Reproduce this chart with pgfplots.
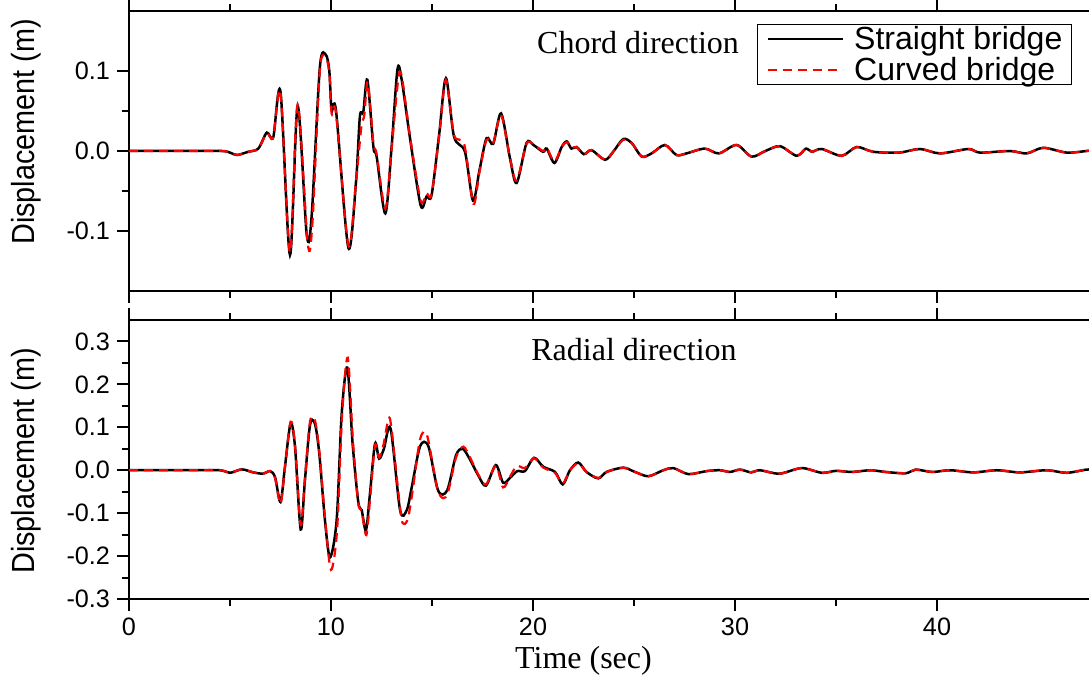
\documentclass[border=0pt]{standalone}
\usepackage{fontspec}
\setmainfont{Liberation Serif}
\setsansfont{Liberation Sans}
\usepackage{graphicx}
\usepackage{pgfplots}
\usepackage{pgfplotstable}
\pgfplotsset{compat=1.18}

% Chord direction, straight bridge
\pgfplotstableread{
x y
0 0
3 0
4.6 0
5.0 -0.002
5.35 -0.005
5.9 -0.001
6.4 0.003
6.82 0.023
7.14 0.017
7.5 0.074
7.97 -0.130
8.35 0.056
8.8 -0.105
9.04 -0.082
9.45 0.105
9.75 0.120
9.92 0.099
10.03 0.051
10.25 0.050
10.86 -0.121
11.24 -0.038
11.43 0.043
11.6 0.049
11.8 0.089
12.1 0.005
12.26 -0.007
12.69 -0.078
13.0 0.005
13.29 0.102
13.5 0.089
13.9 0.018
14.44 -0.068
14.73 -0.057
14.98 -0.055
15.36 0.022
15.69 0.091
16.09 0.018
16.63 -0.001
17.03 -0.062
17.35 -0.024
17.7 0.016
18.03 0.009
18.42 0.047
18.86 -0.009
19.19 -0.040
19.68 0.010
20.02 0.0075
20.5 -0.001
20.68 0.003
21.06 -0.015
21.42 0.005
21.67 0.012
21.9 0.003
22.16 0.005
22.52 -0.004
22.9 0.001
23.56 -0.011
23.97 -0.001
24.47 0.015
24.9 0.0096
25.38 -0.007
25.87 -0.003
26.53 0.0075
27.1 -0.005
27.6 -0.003
28.5 0.003
29.2 -0.003
30.08 0.0075
30.82 -0.007
31.5 0.000
32.23 0.006
33.05 -0.006
33.51 0.003
33.8 -0.001
34.29 0.0025
35.28 -0.006
36.02 0.005
36.85 -0.001
38.12 -0.002
39.16 0.0025
40.15 -0.003
41.55 0.0025
42.13 -0.002
43.61 0.000
44.44 -0.003
45.26 0.004
46.42 -0.002
47.4 0.000
47.8 0.001
}\chordstraight

% Chord direction, curved bridge
\pgfplotstableread{
x y
0 0
3 0
4.6 0
5.0 -0.002
5.35 -0.005
5.9 -0.001
6.4 0.003
6.82 0.022
7.14 0.017
7.5 0.073
7.97 -0.127
8.35 0.058
8.85 -0.116
9.08 -0.090
9.45 0.102
9.75 0.116
9.92 0.097
10.03 0.047
10.25 0.047
10.86 -0.118
11.24 -0.038
11.5 0.030
11.65 0.045
11.82 0.086
12.1 0.010
12.26 -0.004
12.69 -0.072
13.0 0.003
13.35 0.094
13.55 0.086
13.9 0.020
14.44 -0.062
14.73 -0.053
14.98 -0.054
15.36 0.020
15.69 0.089
16.09 0.020
16.6 0.008
17.05 -0.066
17.35 -0.026
17.7 0.014
18.03 0.010
18.42 0.045
18.86 -0.009
19.19 -0.037
19.68 0.009
20.02 0.008
20.5 0.000
20.68 0.004
21.06 -0.013
21.42 0.005
21.67 0.011
21.9 0.004
22.16 0.005
22.52 -0.004
22.9 0.001
23.56 -0.011
23.97 -0.001
24.47 0.014
24.9 0.0096
25.38 -0.007
25.87 -0.003
26.53 0.0075
27.1 -0.005
27.6 -0.003
28.5 0.003
29.2 -0.003
30.08 0.0075
30.82 -0.007
31.5 0.000
32.23 0.006
33.05 -0.006
33.51 0.003
33.8 -0.001
34.29 0.0025
35.28 -0.006
36.02 0.005
36.85 -0.001
38.12 -0.002
39.16 0.0025
40.15 -0.003
41.55 0.0025
42.13 -0.002
43.61 0.000
44.44 -0.003
45.26 0.004
46.42 -0.002
47.4 0.000
47.8 0.001
}\chordcurved

% Radial direction, straight bridge
\pgfplotstableread{
x y
0 0
3 0
4.5 0
5.0 -0.006
5.58 0.002
6.15 -0.005
6.65 -0.008
6.98 -0.002
7.23 -0.016
7.5 -0.074
7.72 0.008
8.0 0.109
8.22 0.054
8.5 -0.138
8.71 -0.023
8.96 0.105
9.2 0.109
9.42 0.039
9.7 -0.116
9.95 -0.203
10.28 -0.116
10.53 0.132
10.81 0.239
11.07 0.062
11.35 -0.074
11.52 -0.093
11.73 -0.140
11.93 -0.054
12.18 0.062
12.38 0.027
12.62 0.050
12.95 0.097
13.42 -0.093
13.75 -0.093
14.0 -0.039
14.41 0.056
14.82 0.056
15.3 -0.047
15.75 -0.047
16.19 0.035
16.52 0.050
16.88 0.025
17.29 -0.012
17.67 -0.036
18.16 0.012
18.52 -0.029
18.86 -0.018
19.22 -0.002
19.6 -0.002
20.05 0.029
20.51 0.008
21.09 -0.004
21.47 -0.033
21.83 0.000
22.24 0.018
22.65 -0.004
23.23 -0.019
23.64 -0.004
24.47 0.006
25.05 -0.004
25.71 -0.014
26.45 0.000
26.95 0.005
27.69 -0.009
28.6 -0.002
29.26 0.000
29.75 -0.004
30.25 0.0015
30.8 -0.005
31.24 0.000
32.2 -0.008
33.3 0.005
34.3 -0.006
35.0 -0.0015
35.8 -0.004
36.7 0.000
37.45 -0.004
38.45 -0.007
38.94 0.0015
39.77 -0.004
40.64 0.000
41.8 -0.005
42.96 0.000
44.1 -0.005
45.43 0.000
46.42 -0.006
47.4 0.0015
47.8 0.001
}\radialstraight

% Radial direction, curved bridge
\pgfplotstableread{
x y
0 0
3 0
4.5 0
5.0 -0.006
5.58 0.002
6.15 -0.005
6.65 -0.008
6.98 -0.002
7.23 -0.018
7.5 -0.078
7.72 0.006
8.0 0.113
8.22 0.058
8.5 -0.128
8.71 -0.020
8.96 0.113
9.2 0.117
9.42 0.045
9.72 -0.120
10.0 -0.232
10.3 -0.140
10.55 0.130
10.83 0.262
11.09 0.065
11.35 -0.076
11.52 -0.095
11.75 -0.151
11.95 -0.058
12.18 0.058
12.38 0.030
12.6 0.060
12.85 0.120
13.0 0.095
13.45 -0.100
13.62 -0.125
13.82 -0.110
14.05 -0.045
14.41 0.072
14.75 0.082
15.25 -0.040
15.55 -0.065
15.8 -0.050
16.19 0.030
16.55 0.055
16.88 0.030
17.29 -0.010
17.67 -0.033
18.16 0.010
18.52 -0.040
18.86 -0.015
19.2 0.010
19.6 0.005
20.05 0.028
20.51 0.006
21.09 -0.006
21.47 -0.031
21.83 0.000
22.24 0.016
22.65 -0.004
23.23 -0.018
23.64 -0.004
24.47 0.006
25.05 -0.004
25.71 -0.014
26.45 0.000
26.95 0.005
27.69 -0.009
28.6 -0.002
29.26 0.000
29.75 -0.004
30.25 0.0015
30.8 -0.005
31.24 0.000
32.2 -0.008
33.3 0.005
34.3 -0.006
35.0 -0.0015
35.8 -0.004
36.7 0.000
37.45 -0.004
38.45 -0.007
38.94 0.0015
39.77 -0.004
40.64 0.000
41.8 -0.005
42.96 0.000
44.1 -0.005
45.43 0.000
46.42 -0.006
47.4 0.0015
47.8 0.001
}\radialcurved

\begin{document}
\begin{tikzpicture}
\pgfplotsset{
  common/.style={
    scale only axis,
    width=482.78bp,
    xmin=0, xmax=47.8,
    tick align=outside,
    major tick length=6bp,
    minor tick length=3.5bp,
    xtick={0,10,20,30,40},
    minor x tick num=1,
    minor y tick num=1,
    xtick pos=both, ytick pos=both,
    axis line style={line width=1.1bp},
    tick style={line width=1bp, black},
    tick label style={font=\sffamily\fontsize{12.6bp}{14bp}\selectfont},
    ylabel={\scalebox{0.9}[1]{Displacement (m)}},
  },
  straight/.style={black, line width=1.25bp, smooth},
  curved/.style={red, line width=1.1bp, dash pattern=on 4.5bp off 3bp, smooth},
}
% Top panel
\begin{axis}[common,
  name=top, at={(0,154bp)}, anchor=south west,
  height=140bp,
  ymin=-0.175, ymax=0.175,
  ytick={-0.1,0,0.1}, yticklabels={-0.1,0.0,0.1},
  xticklabels={},
  ylabel style={at={(axis description cs:-0.1066,0.568)}, anchor=center,
    font=\sffamily\fontsize{16bp}{18bp}\selectfont},
  legend style={at={(axis description cs:0.9766,0.9536)}, anchor=north east,
    draw=black, line width=0.6bp, inner xsep=4.5bp, inner ysep=0.7bp,
    row sep=2.4bp, nodes={inner xsep=0pt, inner ysep=0pt},
    font=\sffamily\fontsize{16bp}{19bp}\selectfont,
    /tikz/every odd column/.style={column sep=5.5bp}},
  legend cell align=left,
  legend image code/.code={\draw[#1, line width=0.7bp] (0bp,0bp) -- (37.5bp,0bp);},
]
\addplot[straight] table {\chordstraight};
\addlegendentry{Straight bridge}
\addplot[curved] table {\chordcurved};
\addlegendentry{Curved bridge}
\node[font=\rmfamily\fontsize{16bp}{19bp}\selectfont] at (axis cs:25.2,0.136) {Chord direction};
\end{axis}
% Bottom panel
\begin{axis}[common,
  name=bot, at={(0,0)}, anchor=south west,
  height=139.5bp,
  ymin=-0.3, ymax=0.35,
  ytick={-0.3,-0.2,-0.1,0,0.1,0.2,0.3},
  yticklabels={-0.3,-0.2,-0.1,0.0,0.1,0.2,0.3},
  xticklabels={0,10,20,30,40},
  ylabel style={at={(axis description cs:-0.1066,0.495)}, anchor=center,
    font=\sffamily\fontsize{16bp}{18bp}\selectfont},
  xlabel={Time (sec)},
  xlabel style={at={(axis description cs:0.4707,-0.2222)}, anchor=center,
    font=\rmfamily\fontsize{16bp}{19bp}\selectfont},
]
\addplot[straight] table {\radialstraight};
\addplot[curved] table {\radialcurved};
\node[font=\rmfamily\fontsize{16bp}{19bp}\selectfont] at (axis cs:25.0,0.281) {Radial direction};
\end{axis}
\pgfresetboundingbox
\path[use as bounding box] (-64.5bp,-38bp) rectangle (480bp,299.5bp);
\end{tikzpicture}
\end{document}
